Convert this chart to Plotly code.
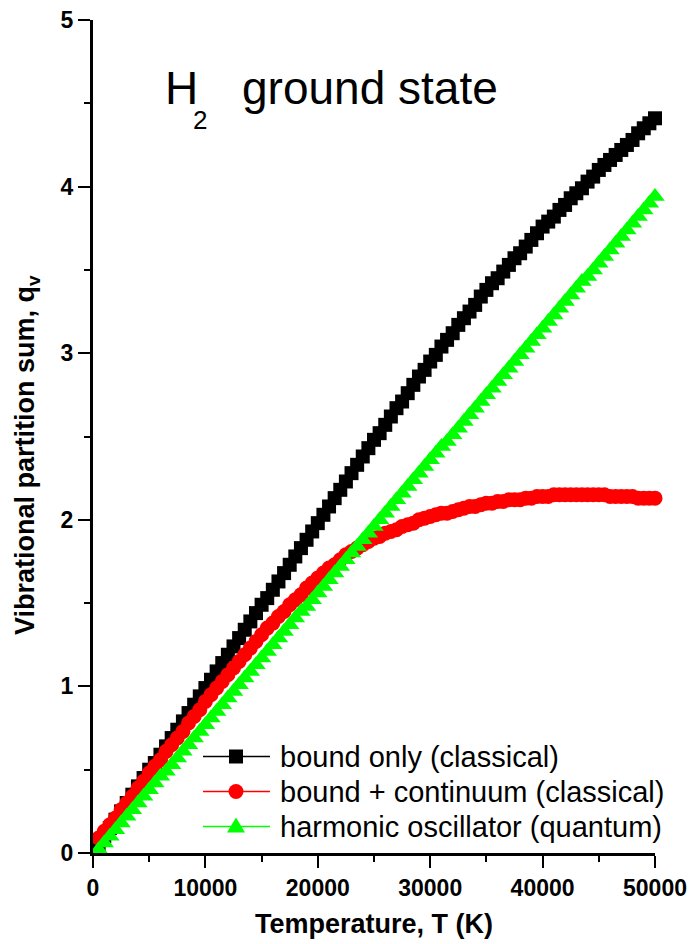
import plotly.graph_objects as go

# Temperature grid (K)
temperature = [500 * i for i in range(1, 101)]

# bound only (classical)
q_bound = [0.05, 0.10, 0.15, 0.20, 0.25, 0.30, 0.35, 0.40, 0.45, 0.50,
           0.54, 0.59, 0.64, 0.69, 0.74, 0.79, 0.84, 0.89, 0.94, 0.99,
           1.04, 1.09, 1.14, 1.19, 1.24, 1.29, 1.34, 1.39, 1.44, 1.49,
           1.53, 1.58, 1.63, 1.68, 1.73, 1.78, 1.83, 1.88, 1.93, 1.98,
           2.03, 2.08, 2.13, 2.18, 2.23, 2.28, 2.33, 2.38, 2.43, 2.48,
           2.52, 2.57, 2.62, 2.67, 2.71, 2.76, 2.81, 2.86, 2.90, 2.95,
           2.99, 3.04, 3.08, 3.12, 3.17, 3.21, 3.25, 3.29, 3.34, 3.38,
           3.42, 3.45, 3.49, 3.53, 3.57, 3.60, 3.64, 3.68, 3.72, 3.76,
           3.79, 3.82, 3.86, 3.89, 3.93, 3.96, 3.99, 4.03, 4.06, 4.10,
           4.13, 4.16, 4.19, 4.22, 4.25, 4.28, 4.32, 4.35, 4.38, 4.41]

# bound + continuum (classical)
q_continuum = [0.09, 0.13, 0.17, 0.21, 0.26, 0.30, 0.34, 0.39, 0.43, 0.48,
               0.52, 0.56, 0.61, 0.65, 0.69, 0.73, 0.78, 0.82, 0.86, 0.91,
               0.95, 0.99, 1.03, 1.07, 1.11, 1.15, 1.19, 1.23, 1.27, 1.31,
               1.35, 1.38, 1.42, 1.45, 1.49, 1.52, 1.55, 1.59, 1.62, 1.65,
               1.68, 1.71, 1.73, 1.76, 1.79, 1.81, 1.83, 1.85, 1.87, 1.89,
               1.90, 1.92, 1.93, 1.94, 1.96, 1.97, 1.98, 2.00, 2.01, 2.02,
               2.03, 2.04, 2.04, 2.05, 2.06, 2.07, 2.08, 2.08, 2.09, 2.10,
               2.10, 2.11, 2.11, 2.12, 2.12, 2.12, 2.13, 2.13, 2.14, 2.14,
               2.14, 2.15, 2.15, 2.15, 2.15, 2.15, 2.15, 2.15, 2.15, 2.15,
               2.15, 2.14, 2.14, 2.14, 2.14, 2.14, 2.13, 2.13, 2.13, 2.13]

# harmonic oscillator (quantum)
q_harmonic = [0.02, 0.06, 0.10, 0.14, 0.18, 0.22, 0.26, 0.30, 0.34, 0.38,
              0.42, 0.46, 0.49, 0.53, 0.57, 0.61, 0.65, 0.69, 0.73, 0.77,
              0.81, 0.85, 0.89, 0.93, 0.97, 1.01, 1.05, 1.09, 1.13, 1.17,
              1.21, 1.25, 1.29, 1.33, 1.37, 1.41, 1.45, 1.48, 1.52, 1.56,
              1.60, 1.64, 1.68, 1.72, 1.76, 1.80, 1.84, 1.88, 1.92, 1.96,
              2.00, 2.04, 2.08, 2.12, 2.16, 2.20, 2.24, 2.28, 2.32, 2.36,
              2.40, 2.44, 2.47, 2.51, 2.55, 2.59, 2.63, 2.67, 2.71, 2.75,
              2.79, 2.83, 2.87, 2.91, 2.95, 2.99, 3.03, 3.07, 3.11, 3.15,
              3.19, 3.23, 3.27, 3.31, 3.35, 3.39, 3.43, 3.46, 3.50, 3.54,
              3.58, 3.62, 3.66, 3.70, 3.74, 3.78, 3.82, 3.86, 3.90, 3.94]

series_names = ["bound only (classical)",
                "bound + continuum (classical)",
                "harmonic oscillator (quantum)"]
series_colors = ["#000000", "#ff0000", "#00ff00"]
series_symbols = ["square", "circle", "triangle-up"]
series_sizes = [14, 15, 17]
series_values = [q_bound, q_continuum, q_harmonic]

x_tickvals = [0, 10000, 20000, 30000, 40000, 50000]
y_tickvals = [0, 1, 2, 3, 4, 5]

FONT = "Liberation Sans, Arial, sans-serif"
W, H = 693, 944
ML, MR, MT, MB = 93, 38, 20, 91
PW, PH = W - ML - MR, H - MT - MB


def px_x(px):
    return (px - ML) / PW


def px_y(py):
    return (H - MB - py) / PH


fig = go.Figure()
for name, vals, col, sym, sz in zip(series_names, series_values, series_colors,
                                     series_symbols, series_sizes):
    fig.add_trace(go.Scatter(x=temperature, y=vals, name=name,
                             mode="lines+markers", cliponaxis=False, showlegend=False,
                             line=dict(color=col, width=1.5),
                             marker=dict(symbol=sym, size=sz, color=col)))

axis_common = dict(showline=True, linewidth=3, linecolor="black",
                   ticks="outside", ticklen=12, tickwidth=2, tickcolor="black",
                   showgrid=False, zeroline=False, mirror=False, automargin=False,
                   tickfont=dict(family=FONT, size=23, color="black", weight="bold"))

fig.update_xaxes(range=[0, 50000], tickvals=x_tickvals,
                 ticktext=[str(v) for v in x_tickvals],
                 minor=dict(dtick=5000, ticks="outside", ticklen=6, tickwidth=2, tickcolor="black"),
                 title=dict(text="Temperature, T (K)", standoff=15,
                            font=dict(family=FONT, size=27, color="black", weight="bold")),
                 **axis_common)
fig.update_yaxes(range=[0, 5], tickvals=y_tickvals,
                 ticktext=[str(v) for v in y_tickvals],
                 minor=dict(dtick=0.5, ticks="outside", ticklen=6, tickwidth=2, tickcolor="black"),
                 **axis_common)

# Y axis title (placed as rotated text so it sits where the reference has it)
fig.add_annotation(text="Vibrational partition sum, q<sub>v</sub>", xref="paper", yref="paper",
                   x=px_x(27), y=px_y(455), xanchor="center", yanchor="middle",
                   textangle=-90, showarrow=False,
                   font=dict(family=FONT, size=27, color="black", weight="bold"))

# Title "H2 ground state" (subscript drawn as its own smaller, lowered text)
fig.add_annotation(text="H", xref="paper", yref="paper",
                   x=px_x(163), y=px_y(88), xanchor="left", yanchor="middle", showarrow=False,
                   font=dict(family=FONT, size=46, color="black"))
fig.add_annotation(text="2", xref="paper", yref="paper",
                   x=px_x(191), y=px_y(120), xanchor="left", yanchor="middle", showarrow=False,
                   font=dict(family=FONT, size=26, color="black"))
fig.add_annotation(text="ground state", xref="paper", yref="paper",
                   x=px_x(240), y=px_y(88), xanchor="left", yanchor="middle", showarrow=False,
                   font=dict(family=FONT, size=46, color="black"))

# Legend drawn as shapes + text (line with centred symbol, label to the right)
row_y = [756.5, 791.5, 826.5]
line_x0, line_x1, sym_cx, text_x = 203, 270, 236, 278
for name, col, sym, yy in zip(series_names, series_colors, series_symbols, row_y):
    fig.add_shape(type="line", xref="paper", yref="paper",
                  x0=px_x(line_x0), x1=px_x(line_x1), y0=px_y(yy), y1=px_y(yy),
                  line=dict(color=col, width=1.5))
    if sym == "square":
        fig.add_shape(type="rect", xref="paper", yref="paper",
                      x0=px_x(sym_cx - 7), x1=px_x(sym_cx + 7),
                      y0=px_y(yy - 7), y1=px_y(yy + 7),
                      fillcolor=col, line=dict(width=0))
    elif sym == "circle":
        fig.add_shape(type="circle", xref="paper", yref="paper",
                      x0=px_x(sym_cx - 7.5), x1=px_x(sym_cx + 7.5),
                      y0=px_y(yy - 7.5), y1=px_y(yy + 7.5),
                      fillcolor=col, line=dict(width=0))
    else:
        path = "M {:.5f},{:.5f} L {:.5f},{:.5f} L {:.5f},{:.5f} Z".format(
            px_x(sym_cx - 9), px_y(yy + 6), px_x(sym_cx + 9), px_y(yy + 6),
            px_x(sym_cx), px_y(yy - 9))
        fig.add_shape(type="path", xref="paper", yref="paper", path=path,
                      fillcolor=col, line=dict(width=0))
    fig.add_annotation(text=name, xref="paper", yref="paper",
                       x=px_x(text_x), y=px_y(yy), xanchor="left", yanchor="middle",
                       showarrow=False,
                       font=dict(family=FONT, size=29, color="black"))

fig.update_layout(
    width=W, height=H,
    margin=dict(l=ML, r=MR, t=MT, b=MB),
    paper_bgcolor="white", plot_bgcolor="white",
    showlegend=False,
)

fig.write_html("out.html")
